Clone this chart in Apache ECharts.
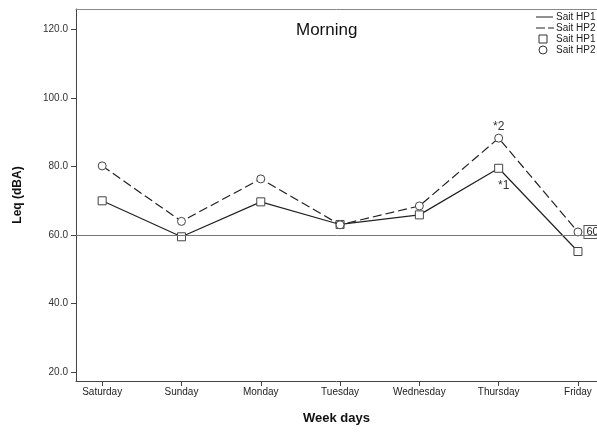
<!DOCTYPE html>
<html>
<head>
<meta charset="utf-8">
<script src="https://cdn.jsdelivr.net/npm/echarts@6/dist/echarts.min.js"></script>
<style>
  html, body { margin: 0; padding: 0; background: #fff; }
  #chart { width: 597px; height: 432px; }
</style>
</head>
<body>
<div id="chart"></div>
<script>
// Week days on the horizontal axis
const days = ['Saturday', 'Sunday', 'Monday', 'Tuesday', 'Wednesday', 'Thursday', 'Friday'];
// Morning Leq (dBA) per site
const hp1 = [70.0, 59.5, 69.7, 63.1, 65.9, 79.5, 55.2];
const hp2 = [80.2, 64.0, 76.4, 63.0, 68.5, 88.3, 60.9];
// Vertical tick labels and the reference level
const yTicks = [20, 40, 60, 80, 100, 120];
const refLevel = 60;
const dayIdx = days.map((d, i) => i);

const font = 'Liberation Sans, Arial, sans-serif';
const ink = '#222';

const chart = echarts.init(document.getElementById('chart'), null, { renderer: 'canvas' });

const hp1Data = hp1.map((v, i) => {
  const item = { value: [i, v] };
  if (days[i] === 'Thursday') {
    item.label = { show: true, formatter: '*1', position: 'bottom', offset: [5, 2],
      fontSize: 12, color: '#333', fontFamily: font };
  }
  return item;
});
const hp2Data = hp2.map((v, i) => {
  const item = { value: [i, v] };
  if (days[i] === 'Thursday') {
    item.label = { show: true, formatter: '*2', position: 'top', distance: 1,
      fontSize: 12, color: '#333', fontFamily: font };
  }
  if (days[i] === 'Friday') {
    item.label = { show: true, formatter: p => p.value[1].toFixed(1), position: 'right',
      distance: 2, fontSize: 11, color: '#222', fontFamily: font,
      borderColor: '#555', borderWidth: 1, backgroundColor: '#fff', padding: [1, 2, 0, 2] };
  }
  return item;
});

const xMin = -0.33, xMax = 6.24;

chart.setOption({
  animation: false,
  backgroundColor: '#fff',
  textStyle: { fontFamily: font },
  grid: { left: 76, right: 0, top: 9, bottom: 51 },
  xAxis: [{
    type: 'value', min: xMin, max: xMax,
    name: 'Week days', nameLocation: 'middle', nameGap: 31,
    nameTextStyle: { fontSize: 13, fontWeight: 'bold', color: '#111', fontFamily: font },
    axisLine: { show: true, onZero: false, lineStyle: { color: '#444', width: 1 } },
    axisTick: { show: true, length: 5, customValues: dayIdx, lineStyle: { color: '#444' } },
    axisLabel: { customValues: dayIdx, formatter: v => days[Math.round(v)], fontSize: 10, color: ink, margin: 6, fontFamily: font },
    splitLine: { show: false }
  }, {
    type: 'value', min: xMin, max: xMax, position: 'top',
    axisLine: { show: true, onZero: false, lineStyle: { color: '#888', width: 1 } },
    axisTick: { show: false }, axisLabel: { show: false }, splitLine: { show: false }
  }],
  yAxis: {
    type: 'value', min: 17.4, max: 126,
    name: 'Leq (dBA)', nameLocation: 'middle', nameGap: 52, nameRotate: 90,
    nameTextStyle: { fontSize: 12, fontWeight: 'bold', color: '#111', fontFamily: font },
    axisLine: { show: true, onZero: false, lineStyle: { color: '#444', width: 1 } },
    axisTick: { show: true, length: 5, customValues: yTicks, lineStyle: { color: '#444' } },
    axisLabel: { customValues: yTicks, formatter: v => v.toFixed(1), fontSize: 10, color: '#333', margin: 8, fontFamily: font },
    splitLine: { show: false }
  },
  series: [{
    name: 'Sait HP1', type: 'line', data: hp1Data,
    symbol: 'rect', symbolSize: 8,
    itemStyle: { color: '#fff', borderColor: '#444', borderWidth: 1 },
    lineStyle: { color: '#222', width: 1.2 },
    markLine: {
      silent: true, symbol: 'none', label: { show: false },
      lineStyle: { color: '#777', width: 1, type: 'solid' },
      data: [{ yAxis: refLevel }]
    },
    z: 3
  }, {
    name: 'Sait HP2', type: 'line', data: hp2Data,
    symbol: 'circle', symbolSize: 8,
    itemStyle: { color: '#fff', borderColor: '#444', borderWidth: 1 },
    lineStyle: { color: '#222', width: 1.2, type: [9, 4] },
    z: 4
  }],
  title: {
    text: 'Morning', left: 291, top: 17,
    textStyle: { fontSize: 17, fontWeight: 'normal', color: '#111', fontFamily: font }
  },
  graphic: [
    { type: 'line', shape: { x1: 536, y1: 17, x2: 553, y2: 17 }, style: { stroke: '#222', lineWidth: 1 } },
    { type: 'line', shape: { x1: 536, y1: 28, x2: 554, y2: 28 }, style: { stroke: '#222', lineWidth: 1, lineDash: [9, 3] } },
    { type: 'rect', shape: { x: 539, y: 35, width: 8, height: 8 }, style: { fill: '#fff', stroke: '#333', lineWidth: 1 } },
    { type: 'circle', shape: { cx: 543, cy: 50, r: 4 }, style: { fill: '#fff', stroke: '#333', lineWidth: 1 } },
    { type: 'text', x: 556, y: 17, style: { text: 'Sait HP1', font: '10px ' + font, fill: ink, verticalAlign: 'middle' } },
    { type: 'text', x: 556, y: 28, style: { text: 'Sait HP2', font: '10px ' + font, fill: ink, verticalAlign: 'middle' } },
    { type: 'text', x: 556, y: 39, style: { text: 'Sait HP1', font: '10px ' + font, fill: ink, verticalAlign: 'middle' } },
    { type: 'text', x: 556, y: 50, style: { text: 'Sait HP2', font: '10px ' + font, fill: ink, verticalAlign: 'middle' } }
  ]
});
</script>
</body>
</html>
